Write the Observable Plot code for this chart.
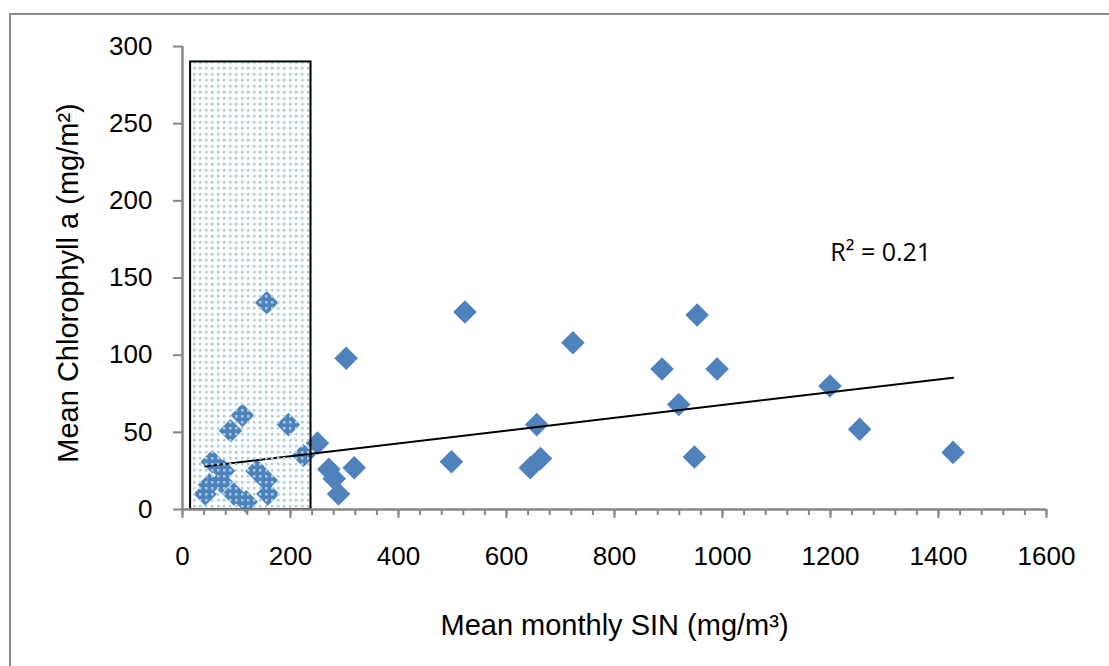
<!DOCTYPE html>
<html>
<head>
<meta charset="utf-8">
<script src="https://cdn.jsdelivr.net/npm/d3@7"></script>
<script src="https://cdn.jsdelivr.net/npm/@observablehq/plot@0.6"></script>
<style>
  html, body { margin: 0; padding: 0; background: #fff; }
  #wrap { position: relative; width: 1109px; height: 666px; overflow: hidden; }
  #border { position: absolute; left: 9px; top: 13px; width: 1200px; height: 800px;
            border-top: 2px solid #8c8c8c; border-left: 2px solid #8c8c8c; pointer-events: none; }
  #chart { position: absolute; left: 0; top: 0; }
</style>
</head>
<body>
<div id="wrap"><div id="border"></div><div id="chart"></div></div>
<script>
// Mean monthly SIN (mg/m3)
const sin = [42, 50, 55, 72, 76, 95, 118, 138, 155, 158, 224, 111, 89, 196, 156, 250,
             271, 281, 289, 318, 303, 498, 523, 644, 663, 656, 723, 888, 953, 990, 919, 948, 1199, 1254, 1427];
// Mean Chlorophyll a (mg/m2)
const chla = [10, 16, 31, 18, 25, 10, 5, 25, 19, 10, 35, 61, 51, 55, 134, 43,
              26, 20, 10, 27, 98, 31, 128, 27, 33, 55, 108, 91, 126, 91, 68, 34, 80, 52, 37];

// Linear trendline (Excel), R² = 0.21
const trendSlope = 0.0415;
const trendIntercept = 26.2;
const r2Label = "R² = 0.21";
const r2Pos = {x: 1293, y: 166};

// Shaded zone
const zoneX = [15, 238];
const zoneY = [0, 290];

const xMajorTicks = d3.range(0, 1601, 200);
const xMinorTicks = d3.range(0, 1601, 40);
const yTicks = d3.range(0, 301, 50);

const xLabel = "Mean monthly SIN (mg/m³)";
const yLabel = "Mean Chlorophyll a (mg/m²)";

const points = sin.map((x, i) => ({x, y: chla[i]}));
const xMin = d3.min(sin), xMax = d3.max(sin);
const trend = [xMin, xMax].map(x => ({x, y: trendIntercept + trendSlope * x}));
const zone = [{x1: zoneX[0], x2: zoneX[1], y1: zoneY[0], y2: zoneY[1]}];

const diamond = {
  draw(ctx, size) {
    const h = Math.sqrt(size / 2);
    ctx.moveTo(0, -h); ctx.lineTo(h, 0); ctx.lineTo(0, h); ctx.lineTo(-h, 0); ctx.closePath();
  }
};

const gray = "#868686";
const fmt = d => String(d);

const svg = Plot.plot({
  width: 1109,
  height: 666,
  marginLeft: 182,
  marginRight: 63,
  marginTop: 46,
  marginBottom: 157,
  style: {fontFamily: "'Liberation Sans', Arial, sans-serif", color: "black", background: "transparent", overflow: "visible"},
  x: {domain: [0, 1600], label: null},
  y: {domain: [0, 300], label: null},
  marks: [
    Plot.axisX({ticks: xMinorTicks, tickSize: 6, text: null, stroke: gray, strokeWidth: 2, label: null}),
    Plot.axisX({ticks: xMajorTicks, tickSize: 9, tickPadding: 28, tickFormat: fmt, fontSize: 26, stroke: gray, strokeWidth: 2, fill: "black", label: null}),
    Plot.axisY({ticks: yTicks, tickSize: 9, tickPadding: 21, tickFormat: fmt, fontSize: 26, stroke: gray, strokeWidth: 2, fill: "black", label: null}),
    Plot.ruleX([0], {stroke: gray, strokeWidth: 2.5}),
    Plot.dot(points, {x: "x", y: "y", symbol: diamond, r: 9.4, fill: "#4f81bd", stroke: null}),
    Plot.line(trend, {x: "x", y: "y", stroke: "black", strokeWidth: 2}),
    Plot.rect(zone, {x1: "x1", x2: "x2", y1: "y1", y2: "y2", fill: "url(#dotgrid)", stroke: "black", strokeWidth: 2}),
    Plot.ruleY([0], {stroke: gray, strokeWidth: 2.5}),
    Plot.text([r2Label], {x: () => r2Pos.x, y: () => r2Pos.y, text: d => d, fontSize: 25, fill: "black", fontFamily: "'Open Sans', 'Liberation Sans', sans-serif"}),
    Plot.text([xLabel], {frameAnchor: "bottom", dy: 116, text: d => d, fontSize: 29, fill: "black", lineAnchor: "middle"}),
    Plot.text([yLabel], {frameAnchor: "left", dx: -114, dy: 5, rotate: -90, text: d => d, fontSize: 29, fill: "black", textAnchor: "middle", lineAnchor: "middle"})
  ]
});

const defs = d3.select(svg).insert("defs", ":first-child");
const pat = defs.append("pattern").attr("id", "dotgrid")
  .attr("width", 6).attr("height", 6).attr("patternUnits", "userSpaceOnUse");
pat.append("rect").attr("x", 1).attr("y", 1).attr("width", 2.5).attr("height", 2.5).attr("fill", "#9dd2da");

document.getElementById("chart").appendChild(svg);
</script>
</body>
</html>
